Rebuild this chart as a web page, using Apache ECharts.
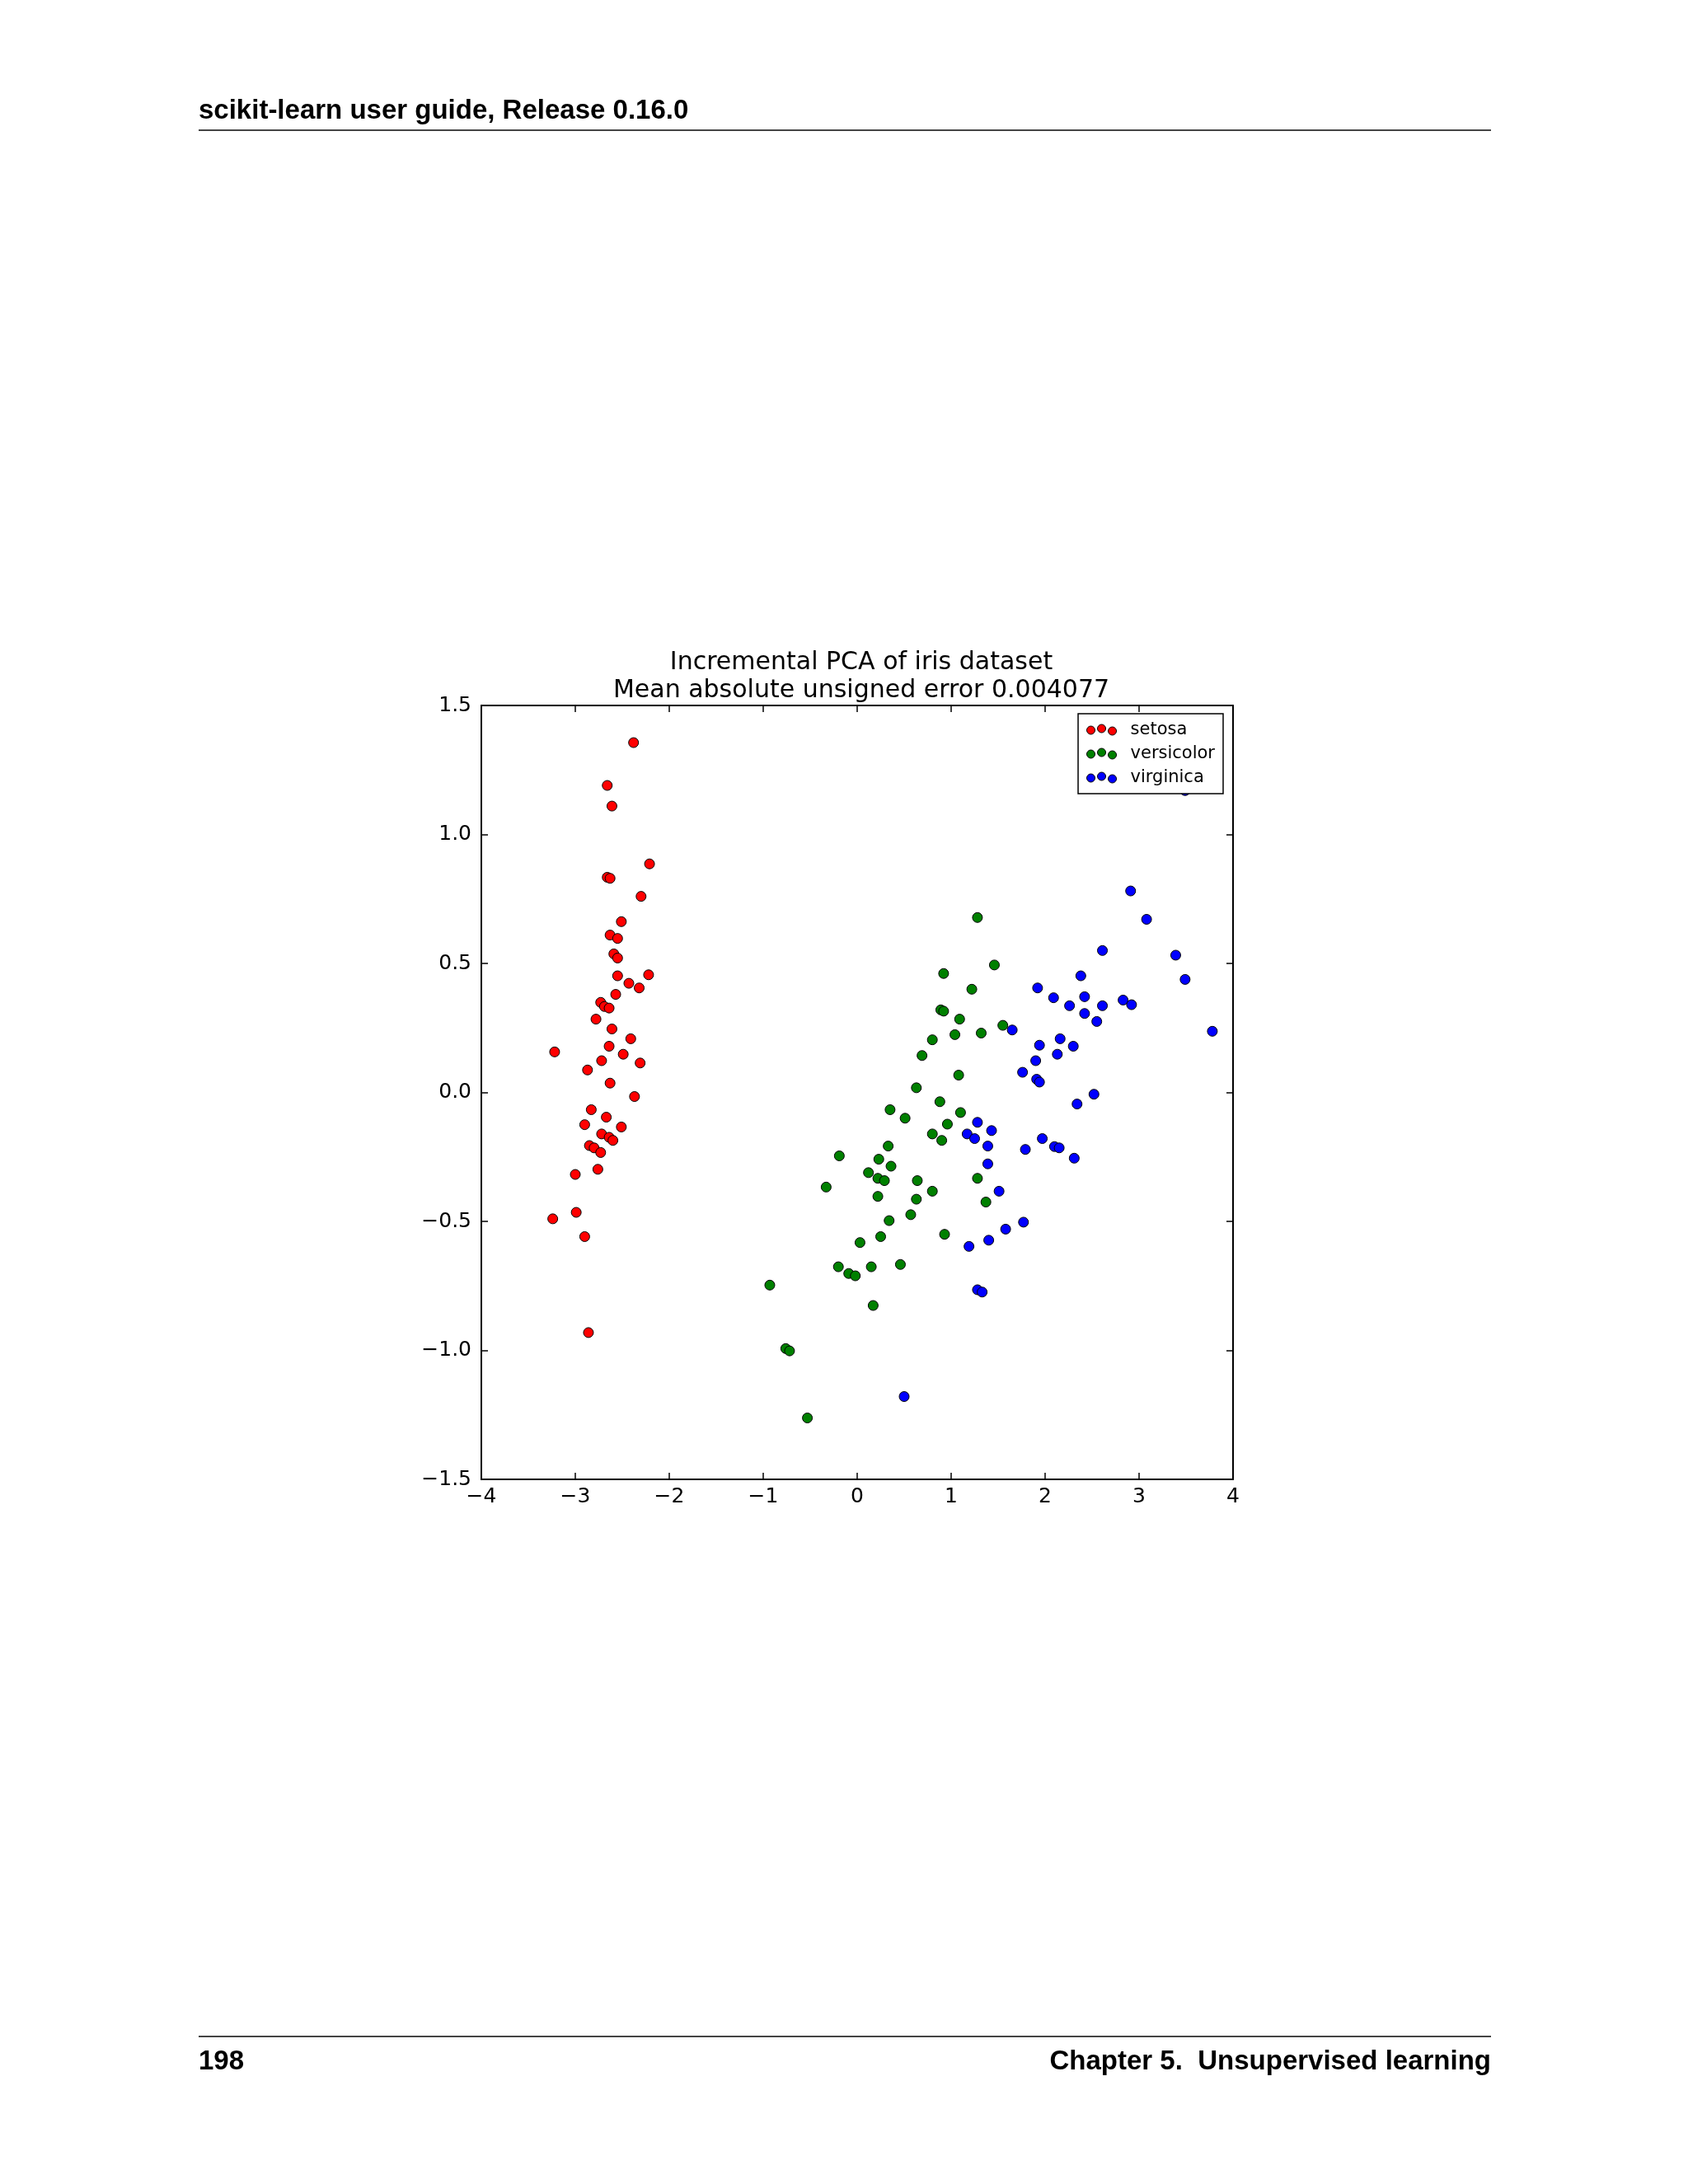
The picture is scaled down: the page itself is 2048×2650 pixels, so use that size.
<!DOCTYPE html>
<html>
<head>
<meta charset="utf-8">
<script src="https://cdn.jsdelivr.net/npm/echarts@6/dist/echarts.min.js"></script>
<style>
html, body { margin: 0; padding: 0; background: #fff; }
#page { position: relative; width: 2048px; height: 2650px; }
#chartDiv { position: absolute; left: 0; top: 0; width: 2048px; height: 2650px; }
.hdr { position: absolute; font-family: "Liberation Sans", Arial, sans-serif; font-weight: bold; font-size: 33px; color: #000; }
.rule { position: absolute; left: 241px; width: 1568px; height: 0; border-top: 2px solid #444; }
</style>
</head>
<body>
<div id="page">
  <div id="chartDiv"></div>
  <div class="hdr" style="left:241px; top:114px;">scikit-learn user guide, Release 0.16.0</div>
  <div class="rule" style="top:157px;"></div>
  <div class="rule" style="top:2470px;"></div>
  <div class="hdr" style="left:241px; top:2481px;">198</div>
  <div class="hdr" style="right:239px; top:2481px;">Chapter 5.&nbsp; Unsupervised learning</div>
</div>
<script>
var setosa = [
    [-2.38, 1.356], [-2.66, 1.19], [-2.61, 1.11], [-2.66, 0.834], [-2.63, 0.83],
    [-2.21, 0.886], [-2.30, 0.76], [-2.51, 0.662], [-2.63, 0.61], [-2.55, 0.597],
    [-2.59, 0.537], [-2.55, 0.521], [-2.55, 0.452], [-2.22, 0.456], [-2.43, 0.423],
    [-2.32, 0.405], [-2.57, 0.38], [-2.73, 0.349], [-2.69, 0.333], [-2.64, 0.327],
    [-2.78, 0.284], [-2.61, 0.246], [-2.41, 0.208], [-2.64, 0.179], [-3.22, 0.157],
    [-2.49, 0.148], [-2.72, 0.123], [-2.31, 0.114], [-2.87, 0.087], [-2.63, 0.036],
    [-2.37, -0.016], [-2.83, -0.067], [-2.67, -0.096], [-2.51, -0.134], [-2.90, -0.125],
    [-2.72, -0.161], [-2.64, -0.174], [-2.60, -0.186], [-2.85, -0.206], [-2.80, -0.215],
    [-2.73, -0.233], [-2.76, -0.298], [-3.00, -0.318], [-2.99, -0.465], [-3.24, -0.49],
    [-2.90, -0.559], [-2.86, -0.931]
];
var versicolor = [
    [1.28, 0.678], [1.46, 0.494], [0.92, 0.461], [1.22, 0.40], [0.89, 0.32],
    [0.92, 0.315], [1.09, 0.284], [1.32, 0.230], [1.55, 0.26], [1.04, 0.224],
    [0.80, 0.204], [0.69, 0.143], [0.63, 0.018], [1.08, 0.067], [0.88, -0.036],
    [0.35, -0.067], [1.10, -0.078], [0.51, -0.10], [0.96, -0.123], [0.80, -0.161],
    [0.90, -0.186], [0.33, -0.208], [-0.19, -0.246], [0.23, -0.259], [0.36, -0.286],
    [0.12, -0.311], [0.22, -0.333], [0.29, -0.342], [-0.33, -0.367], [0.64, -0.342],
    [1.28, -0.333], [0.80, -0.383], [0.22, -0.403], [0.63, -0.414], [1.37, -0.425],
    [0.34, -0.497], [0.57, -0.474], [0.93, -0.55], [0.25, -0.559], [0.03, -0.582],
    [0.46, -0.667], [-0.20, -0.676], [0.15, -0.676], [-0.09, -0.702], [-0.02, -0.711],
    [0.17, -0.826], [-0.93, -0.747], [-0.76, -0.993], [-0.72, -1.002], [-0.53, -1.262]
];
var virginica = [
    [2.91, 0.781], [3.08, 0.671], [2.61, 0.55], [3.39, 0.532], [3.49, 0.438],
    [2.38, 0.452], [1.92, 0.405], [2.09, 0.367], [2.42, 0.371], [2.26, 0.336],
    [2.61, 0.336], [2.83, 0.358], [2.92, 0.34], [2.42, 0.306], [2.55, 0.275],
    [1.65, 0.242], [3.78, 0.237], [2.16, 0.208], [1.94, 0.183], [2.30, 0.179],
    [2.13, 0.148], [1.90, 0.123], [1.76, 0.078], [1.91, 0.051], [1.94, 0.04],
    [2.52, -0.007], [2.34, -0.045], [1.28, -0.116], [1.43, -0.148], [1.17, -0.161],
    [1.25, -0.179], [1.39, -0.208], [1.97, -0.179], [1.79, -0.221], [2.10, -0.21],
    [2.15, -0.215], [2.31, -0.255], [1.39, -0.277], [1.51, -0.383], [1.77, -0.503],
    [1.58, -0.53], [1.40, -0.573], [1.19, -0.597], [1.28, -0.765], [1.33, -0.774],
    [0.50, -1.179], [3.49, 1.17]
];
var names = ['setosa', 'versicolor', 'virginica'];
var colors = ['#ff0000', '#008000', '#0000ff'];

var font = 'DejaVu Sans';
function minus(v, d) {
    var s = d ? v.toFixed(d) : String(v);
    return s.replace('-', '\u2212');
}
var threeDots = 'path://M0,7a5,5 0 1,0 10,0a5,5 0 1,0 -10,0M13,5a5,5 0 1,0 10,0a5,5 0 1,0 -10,0M26,8a5,5 0 1,0 10,0a5,5 0 1,0 -10,0';

var dom = document.getElementById('chartDiv');
var myChart = echarts.init(dom);

function axisBase(show) {
    return {
        axisLine: { show: true, onZero: false, lineStyle: { color: '#000', width: 2 } },
        axisTick: { show: true, inside: true, length: 8, lineStyle: { color: '#000', width: 1.5 } },
        splitLine: { show: false },
        axisLabel: { show: show, color: '#000', fontFamily: font, fontSize: 25 }
    };
}

var xb = axisBase(true), xt = axisBase(false), yl = axisBase(true), yr = axisBase(false);
xb.axisLabel.margin = 9;
xb.axisLabel.formatter = function (v) { return minus(v); };
yl.axisLabel.margin = 12;
yl.axisLabel.formatter = function (v) { return minus(v, 1); };

var option = {
    animation: false,
    title: {
        text: 'Incremental PCA of iris dataset\nMean absolute unsigned error 0.004077',
        left: 1040, top: 782, textAlign: 'center',
        textStyle: { fontFamily: font, fontWeight: 'normal', fontSize: 30, lineHeight: 34, color: '#000' }
    },
    legend: {
        orient: 'vertical',
        right: 564, top: 866,
        padding: [9, 10, 9, 10],
        itemGap: 8,
        itemWidth: 36, itemHeight: 13,
        borderColor: '#000', borderWidth: 1.5, borderRadius: 0,
        backgroundColor: '#fff',
        icon: threeDots,
        itemStyle: { borderColor: '#000', borderWidth: 1 },
        textStyle: { fontFamily: font, fontSize: 21, color: '#000', padding: [0, 0, 0, 12] },
        data: names
    },
    grid: { left: 584, right: 552, top: 856, bottom: 855 },
    xAxis: [
        Object.assign({ type: 'value', min: -4, max: 4, interval: 1, position: 'bottom' }, xb),
        Object.assign({ type: 'value', min: -4, max: 4, interval: 1, position: 'top' }, xt)
    ],
    yAxis: [
        Object.assign({ type: 'value', min: -1.5, max: 1.5, interval: 0.5, position: 'left' }, yl),
        Object.assign({ type: 'value', min: -1.5, max: 1.5, interval: 0.5, position: 'right' }, yr)
    ],
    series: [setosa, versicolor, virginica].map(function (d, i) {
        return {
            name: names[i], type: 'scatter', data: d,
            symbolSize: 12,
            itemStyle: { color: colors[i], borderColor: '#000', borderWidth: 1, opacity: 1 }
        };
    })
};
myChart.setOption(option);
</script>
</body>
</html>
